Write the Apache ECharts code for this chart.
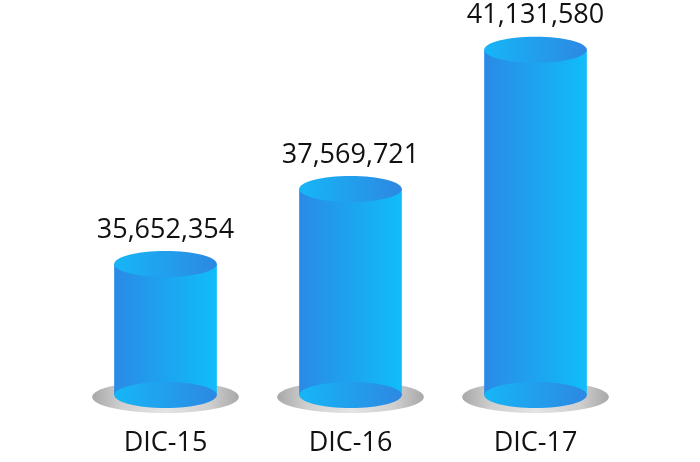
<!DOCTYPE html>
<html>
<head>
<meta charset="utf-8">
<script src="https://cdn.jsdelivr.net/npm/echarts@6/dist/echarts.min.js"></script>
<style>
  html, body { margin: 0; padding: 0; background: #fff; }
  #main { width: 700px; height: 462px; }
</style>
</head>
<body>
<div id="main"></div>
<script>
// 数据
var categories = ['DIC-15', 'DIC-16', 'DIC-17'];
var values = [35652354, 37569721, 41131580];
var axisMin = 32300000;
var axisMax = 42300000;

var fontName = '"Open Sans", sans-serif';

function fmt(v) {
    return Number(v).toLocaleString('en-US');
}

// 圆柱体
function renderCylinder(params, api) {
    var idx = api.value(0);
    var val = api.value(1);
    var top = api.coord([idx, val]);
    var base = api.coord([idx, axisMin]);
    var band = api.size([1, 0])[0];
    var w = band * 0.555;
    var rx = w / 2;
    var ry = 13;
    var cx = top[0];

    var bodyColor = new echarts.graphic.LinearGradient(0, 0, 1, 0, [
        { offset: 0, color: '#2a8ae6' },
        { offset: 1, color: '#10bdf9' }
    ]);
    var capColor = new echarts.graphic.LinearGradient(0, 0, 1, 0, [
        { offset: 0, color: '#16b6f7' },
        { offset: 1, color: '#2d88e2' }
    ]);
    // 底部阴影
    var shadowColor = new echarts.graphic.LinearGradient(0, 0, 1, 0, [
        { offset: 0, color: '#a8a8a8' },
        { offset: 0.2, color: '#cfcfcf' },
        { offset: 0.5, color: '#e4e4e4' },
        { offset: 0.8, color: '#cfcfcf' },
        { offset: 1, color: '#a8a8a8' }
    ]);

    return {
        type: 'group',
        children: [
            {
                type: 'ellipse',
                shape: { cx: cx, cy: base[1] + 2, rx: rx + 22, ry: ry + 3 },
                style: { fill: shadowColor }
            },
            {
                type: 'rect',
                shape: { x: cx - rx, y: top[1], width: w, height: base[1] - top[1] },
                style: { fill: bodyColor }
            },
            {
                type: 'ellipse',
                shape: { cx: cx, cy: base[1], rx: rx, ry: ry },
                style: { fill: capColor }
            },
            {
                type: 'ellipse',
                shape: { cx: cx, cy: top[1], rx: rx, ry: ry },
                style: { fill: capColor }
            },
            {
                type: 'text',
                style: {
                    text: fmt(val),
                    x: cx,
                    y: top[1] - 34,
                    align: 'center',
                    verticalAlign: 'middle',
                    fontSize: 27,
                    fontFamily: fontName,
                    fill: '#111'
                }
            }
        ]
    };
}

var seriesData = [];
for (var i = 0; i < values.length; i++) {
    seriesData.push([i, values[i]]);
}

var myChart = echarts.init(document.getElementById('main'));
var option = {
    animation: false,
    grid: { left: 73, right: 72, top: 4, bottom: 67 },
    xAxis: {
        type: 'category',
        data: categories,
        axisLine: { show: false },
        axisTick: { show: false },
        axisLabel: {
            margin: 35,
            fontSize: 27,
            fontFamily: fontName,
            color: '#111'
        }
    },
    yAxis: {
        type: 'value',
        min: axisMin,
        max: axisMax,
        show: false,
        splitLine: { show: false }
    },
    series: [{
        type: 'custom',
        renderItem: renderCylinder,
        data: seriesData,
        clip: false
    }]
};
myChart.setOption(option);
</script>
</body>
</html>
